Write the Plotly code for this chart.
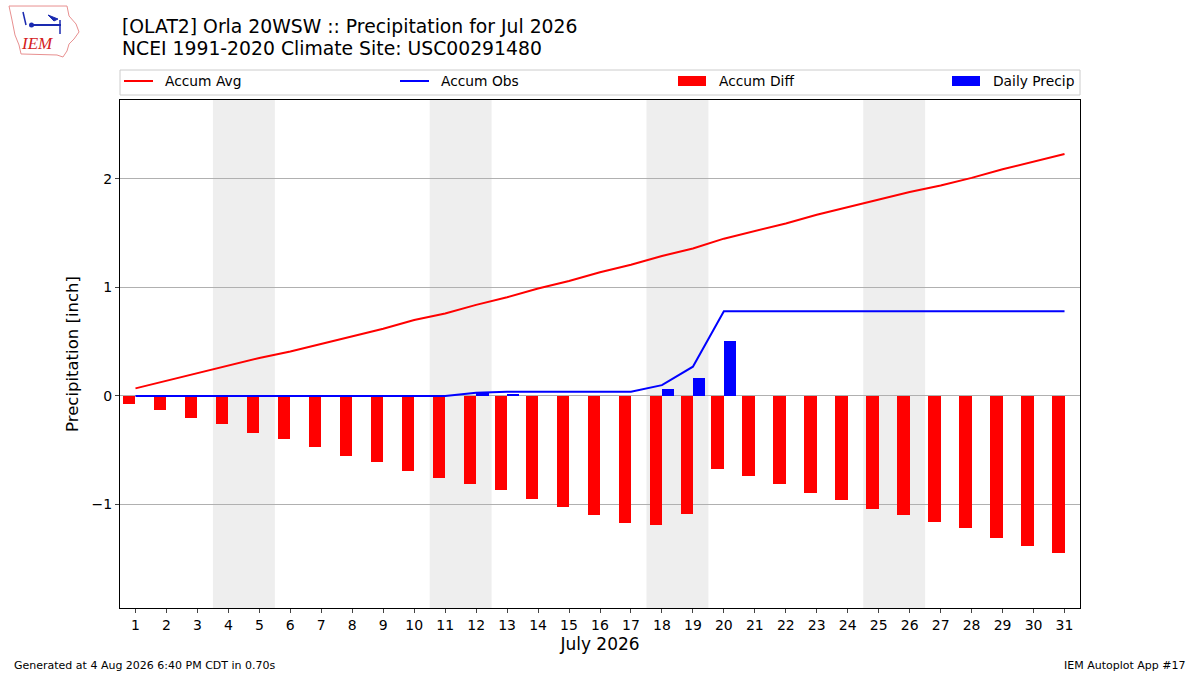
import plotly.graph_objects as go

days = list(range(1, 32))
accum_avg = [0.07, 0.14, 0.21, 0.28, 0.35, 0.41, 0.48, 0.55, 0.62, 0.70,
             0.76, 0.84, 0.91, 0.99, 1.06, 1.14, 1.21, 1.29, 1.36, 1.45,
             1.52, 1.59, 1.67, 1.74, 1.81, 1.88, 1.94, 2.01, 2.09, 2.16, 2.23]
accum_obs = [0, 0, 0, 0, 0, 0, 0, 0, 0, 0,
             0, 0.03, 0.04, 0.04, 0.04, 0.04, 0.04, 0.10, 0.27, 0.78,
             0.78, 0.78, 0.78, 0.78, 0.78, 0.78, 0.78, 0.78, 0.78, 0.78, 0.78]
accum_diff = [-0.07, -0.13, -0.20, -0.26, -0.34, -0.40, -0.47, -0.55, -0.61, -0.69,
              -0.76, -0.81, -0.87, -0.95, -1.02, -1.10, -1.17, -1.19, -1.09, -0.67,
              -0.74, -0.81, -0.89, -0.96, -1.04, -1.10, -1.16, -1.22, -1.31, -1.38, -1.45]
daily_precip = [0, 0, 0, 0, 0, 0, 0, 0, 0, 0,
                0, 0.03, 0.01, 0, 0, 0, 0, 0.06, 0.17, 0.51,
                0, 0, 0, 0, 0, 0, 0, 0, 0, 0, 0]
weekend_starts = [4, 11, 18, 25]
y_ticks = [-1, 0, 1, 2]
legend_names = ["Accum Avg", "Accum Obs", "Accum Diff", "Daily Precip"]
legend_colors = ["red", "blue", "red", "blue"]
legend_kinds = ["line", "line", "bar", "bar"]

FONT = "DejaVu Sans"
W, H = 1200, 675
L, R, T, B = 120, 120, 100, 67
PW, PH = W - L - R, H - T - B

def px(x):
    return (x - L) / PW

def py(y):
    return (H - B - y) / PH

fig = go.Figure()

fig.add_trace(go.Bar(x=days, y=accum_diff, width=0.4, offset=-0.4,
                     marker=dict(color="red", line=dict(width=0)),
                     name=legend_names[2]))
fig.add_trace(go.Bar(x=days, y=daily_precip, width=0.4, offset=0,
                     marker=dict(color="blue", line=dict(width=0)),
                     name=legend_names[3]))
fig.add_trace(go.Scatter(x=days, y=accum_avg, mode="lines",
                         line=dict(color="red", width=2), name=legend_names[0]))
fig.add_trace(go.Scatter(x=days, y=accum_obs, mode="lines",
                         line=dict(color="blue", width=2), name=legend_names[1]))

for d in weekend_starts:
    fig.add_shape(type="rect", xref="x", yref="paper", x0=d - 0.5, x1=d + 1.5,
                  y0=0, y1=1, fillcolor="#eeeeee", line=dict(width=0), layer="below")

# legend box (matplotlib-style expanded legend)
fig.add_shape(type="rect", xref="paper", yref="paper", x0=px(120), x1=px(1080),
              y0=py(95), y1=py(70), line=dict(color="#cccccc", width=1),
              fillcolor="white")
leg_sym_x = [124, 400, 678, 952]
for i, name in enumerate(legend_names):
    sx = leg_sym_x[i]
    if legend_kinds[i] == "line":
        fig.add_shape(type="line", xref="paper", yref="paper", x0=px(sx), x1=px(sx + 29),
                      y0=py(81), y1=py(81), line=dict(color=legend_colors[i], width=2))
    else:
        fig.add_shape(type="rect", xref="paper", yref="paper", x0=px(sx), x1=px(sx + 28),
                      y0=py(86), y1=py(76), line=dict(width=0), fillcolor=legend_colors[i])
    fig.add_annotation(xref="paper", yref="paper", x=px(sx + 39), y=py(81),
                       xanchor="left", yanchor="middle", text=name, showarrow=False,
                       font=dict(family=FONT, size=13.8, color="black"))

# simple IEM logo
outline = [(9, 6), (67, 6), (69, 16), (76, 24), (79, 32), (74, 39), (69, 44),
           (67, 51), (63, 57), (57, 55), (21, 54), (19, 45), (15, 35), (12, 20), (9, 6)]
path = "M " + " L ".join(f"{px(a):.4f},{py(b):.4f}" for a, b in outline) + " Z"
fig.add_shape(type="path", xref="paper", yref="paper", path=path,
              line=dict(color="#e89090", width=1), fillcolor="rgba(0,0,0,0)")
fig.add_shape(type="line", xref="paper", yref="paper", x0=px(31), x1=px(61),
              y0=py(25), y1=py(25), line=dict(color="#1a2ab0", width=2))
fig.add_shape(type="circle", xref="paper", yref="paper", x0=px(29), x1=px(34),
              y0=py(27.5), y1=py(22.5), line=dict(width=0), fillcolor="#1a2ab0")
fig.add_shape(type="line", xref="paper", yref="paper", x0=px(23), x1=px(26),
              y0=py(12), y1=py(25), line=dict(color="#1a2ab0", width=1.5))
fig.add_shape(type="path", xref="paper", yref="paper",
              path=f"M {px(48):.4f},{py(15):.4f} L {px(58):.4f},{py(19):.4f} L {px(54):.4f},{py(21):.4f} Z",
              line=dict(color="#1a2ab0", width=1), fillcolor="#1a2ab0")
fig.add_shape(type="line", xref="paper", yref="paper", x0=px(60), x1=px(60),
              y0=py(20), y1=py(34), line=dict(color="#1a2ab0", width=1.5))
fig.add_annotation(xref="paper", yref="paper", x=px(37), y=py(44), text="<i>IEM</i>",
                   showarrow=False, xanchor="center", yanchor="middle",
                   font=dict(family="Liberation Serif", size=17, color="#d42020"))

fig.add_annotation(xref="paper", yref="paper", x=0, y=py(26), xanchor="left", yanchor="middle",
                   text="[OLAT2] Orla 20WSW :: Precipitation for Jul 2026", showarrow=False,
                   font=dict(family=FONT, size=18.8, color="black"))
fig.add_annotation(xref="paper", yref="paper", x=0, y=py(49), xanchor="left", yanchor="middle",
                   text="NCEI 1991-2020 Climate Site: USC00291480", showarrow=False,
                   font=dict(family=FONT, size=18.8, color="black"))
fig.add_annotation(xref="paper", yref="paper", x=px(12), y=py(665), xanchor="left", yanchor="middle",
                   text="Generated at 4 Aug 2026 6:40 PM CDT in 0.70s", showarrow=False,
                   font=dict(family=FONT, size=11, color="black"))
fig.add_annotation(xref="paper", yref="paper", x=px(1188), y=py(665), xanchor="right", yanchor="middle",
                   text="IEM Autoplot App #17", showarrow=False,
                   font=dict(family=FONT, size=11, color="black"))

fig.update_layout(
    width=W, height=H,
    margin=dict(l=L, r=R, t=T, b=B),
    paper_bgcolor="white", plot_bgcolor="white",
    barmode="overlay", bargap=0, showlegend=False,
    font=dict(family=FONT, size=14, color="black"),
    xaxis=dict(range=[0.5, 31.5], tickmode="array", tickvals=days,
               ticktext=[str(d) for d in days], ticks="outside", ticklen=4,
               showgrid=False, zeroline=False, showline=True, mirror=True,
               linecolor="black", linewidth=1,
               title=dict(text="July 2026", font=dict(size=17), standoff=6)),
    yaxis=dict(range=[-1.954, 2.728], tickmode="array", tickvals=y_ticks,
               ticks="outside", ticklen=4, showgrid=True, gridcolor="#b0b0b0",
               zeroline=False, showline=True, mirror=True, linecolor="black", linewidth=1,
               title=dict(text="Precipitation [inch]", font=dict(size=16.5), standoff=8)),
)

fig.write_html("out.html", post_script="document.body.style.margin='0';",
               config={"displayModeBar": False})
